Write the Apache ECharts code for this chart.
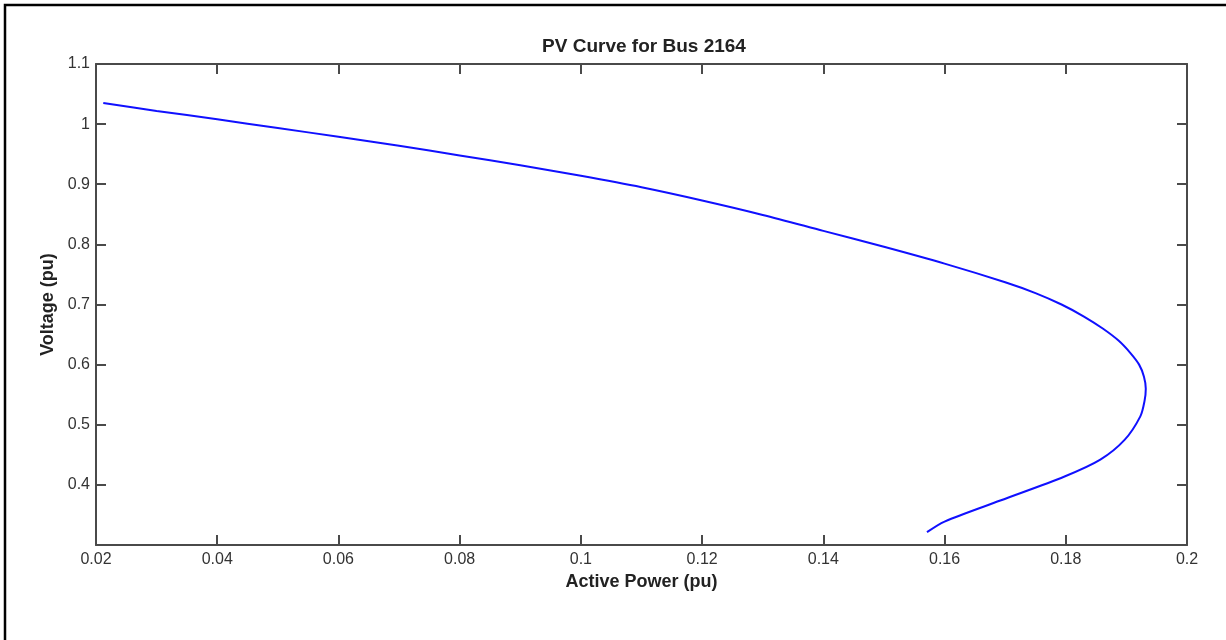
<!DOCTYPE html>
<html>
<head>
<meta charset="utf-8">
<title>PV Curve for Bus 2164</title>
<script src="https://cdn.jsdelivr.net/npm/echarts@6/dist/echarts.min.js"></script>
<style>
  html, body { margin: 0; padding: 0; background: #ffffff; }
  #chart { width: 1226px; height: 640px; }
</style>
</head>
<body>
<div id="chart"></div>
<script>
// PV (nose) curve: active power vs. bus voltage, upper branch then lower branch
const activePower = [
  0.0212, 0.030, 0.040, 0.050, 0.060, 0.070, 0.080, 0.090, 0.100, 0.110,
  0.120, 0.130, 0.140, 0.150, 0.160, 0.170, 0.175, 0.1793, 0.1830, 0.1861,
  0.1887, 0.1906, 0.1921, 0.1929, 0.1932, 0.1930, 0.1923, 0.1897, 0.1857, 0.1798,
  0.1692, 0.1600, 0.1571
];
const voltage = [
  1.035, 1.022, 1.008, 0.9935, 0.979, 0.964, 0.948, 0.9315, 0.914, 0.895,
  0.873, 0.849, 0.8225, 0.796, 0.768, 0.737, 0.719, 0.700, 0.680, 0.660,
  0.640, 0.620, 0.600, 0.580, 0.560, 0.540, 0.514, 0.4748, 0.442, 0.414,
  0.374, 0.339, 0.3213
];

const xTicks = { min: 0.02, max: 0.2, interval: 0.02 };
const yTicks = { min: 0.3, max: 1.1, interval: 0.1 };

const curve = activePower.map((p, i) => [p, voltage[i]]);

const FONT = "'Liberation Sans', Arial, Helvetica, sans-serif";
const AXIS_COLOR = '#4a4a4a';

const frameAxis = {
  type: 'value',
  axisLine: { show: true, onZero: false, lineStyle: { color: AXIS_COLOR, width: 2 } },
  axisTick: { show: true, inside: true, length: 10, lineStyle: { color: AXIS_COLOR, width: 2 } },
  splitLine: { show: false }
};

const chart = echarts.init(document.getElementById('chart'), null, { renderer: 'canvas' });

chart.setOption({
  backgroundColor: '#ffffff',
  animation: false,
  title: {
    text: 'PV Curve for Bus 2164',
    left: 639,
    top: 32,
    textAlign: 'center',
    textStyle: { fontFamily: FONT, fontSize: 19, fontWeight: 'bold', color: '#222' }
  },
  graphic: [{
    type: 'rect',
    shape: { x: 5, y: 5, width: 1400, height: 800 },
    style: { fill: 'none', stroke: '#000', lineWidth: 2.5 },
    silent: true
  }],
  grid: { left: 96, top: 64, right: 39, bottom: 95, containLabel: false },
  xAxis: [
    Object.assign({}, frameAxis, {
      position: 'bottom',
      min: xTicks.min, max: xTicks.max, interval: xTicks.interval,
      name: 'Active Power (pu)',
      nameLocation: 'middle',
      nameGap: 25,
      nameTextStyle: { fontFamily: FONT, fontSize: 18, fontWeight: 'bold', color: '#222' },
      axisLabel: { fontFamily: FONT, fontSize: 16, color: '#333', margin: 7 }
    }),
    Object.assign({}, frameAxis, {
      position: 'top',
      min: xTicks.min, max: xTicks.max, interval: xTicks.interval,
      axisLabel: { show: false }
    })
  ],
  yAxis: [
    Object.assign({}, frameAxis, {
      position: 'left',
      min: yTicks.min, max: yTicks.max, interval: yTicks.interval,
      name: 'Voltage (pu)',
      nameLocation: 'middle',
      nameGap: 20,
      nameTextStyle: { fontFamily: FONT, fontSize: 18, fontWeight: 'bold', color: '#222' },
      axisLabel: { fontFamily: FONT, fontSize: 16, color: '#333', margin: 6, showMinLabel: false }
    }),
    Object.assign({}, frameAxis, {
      position: 'right',
      min: yTicks.min, max: yTicks.max, interval: yTicks.interval,
      axisLabel: { show: false }
    })
  ],
  series: [{
    type: 'line',
    xAxisIndex: 0,
    yAxisIndex: 0,
    data: curve,
    smooth: 0.3,
    showSymbol: false,
    symbol: 'none',
    lineStyle: { color: '#1010ff', width: 2 }
  }]
});
</script>
</body>
</html>
